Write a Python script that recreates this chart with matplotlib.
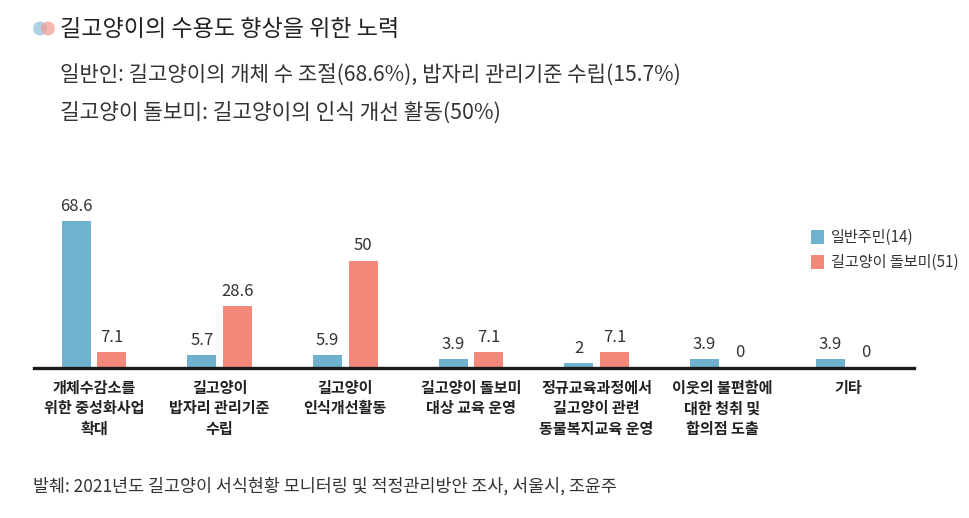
import matplotlib
matplotlib.use("Agg")
from matplotlib import pyplot as plt
from matplotlib.patches import Circle

plt.rcParams['font.family'] = ['Noto Sans CJK KR', 'DejaVu Sans']

# data
categories = [
    "개체수감소를\n위한 중성화사업\n확대",
    "길고양이\n밥자리 관리기준\n수립",
    "길고양이\n인식개선활동",
    "길고양이 돌보미\n대상 교육 운영",
    "정규교육과정에서\n길고양이 관련\n동물복지교육 운영",
    "이웃의 불편함에\n대한 청취 및\n합의점 도출",
    "기타",
]
residents = [68.6, 5.7, 5.9, 3.9, 2, 3.9, 3.9]
caregivers = [7.1, 28.6, 50, 7.1, 7.1, 0, 0]
series_names = ["일반주민(14)", "길고양이 돌보미(51)"]
title = "길고양이의 수용도 향상을 위한 노력"
subtitle1 = "일반인: 길고양이의 개체 수 조절(68.6%), 밥자리 관리기준 수립(15.7%)"
subtitle2 = "길고양이 돌보미: 길고양이의 인식 개선 활동(50%)"
source = "발췌: 2021년도 길고양이 서식현황 모니터링 및 적정관리방안 조사, 서울시, 조윤주"

W, H = 970, 518
BLUE = "#6fb2d0"
RED = "#f4897b"
TEXT = "#333333"

fig = plt.figure(figsize=(W / 100, H / 100), dpi=100)
ax = fig.add_axes([34 / W, 1 - 367.5 / H, 880 / W, 171 / H])

xs = list(range(len(categories)))
offset = 0.141
width = 0.231
b1 = ax.bar([x - offset for x in xs], residents, width, color=BLUE, label=series_names[0])
b2 = ax.bar([x + offset for x in xs], caregivers, width, color=RED, label=series_names[1])
for bars in (b1, b2):
    ax.bar_label(bars, padding=4.5, fontsize=12, color=TEXT)

ax.set_xlim(-0.478, 6.526)
ax.set_ylim(0, 80)
ax.set_yticks([])
ax.set_xticks(xs)
ax.set_xticklabels(categories, fontsize=10.9, fontweight='bold', color="#222222", linespacing=1.33, va='top')
ax.tick_params(axis='x', length=0, pad=9)
for side in ('top', 'left', 'right'):
    ax.spines[side].set_visible(False)
ax.spines['bottom'].set_linewidth(2.4)
ax.spines['bottom'].set_color("#1a1a1a")
ax.patch.set_alpha(0)

ax.legend(loc='upper left', bbox_to_anchor=(777 / 880, 0.81), frameon=False, fontsize=10.9,
          handlelength=0.85, handleheight=1.05, handletextpad=0.5, labelspacing=0.55,
          borderpad=0, borderaxespad=0, labelcolor=TEXT)

# title marker, two overlapping discs
bg = fig.add_axes([0, 0, 1, 1], zorder=-1)
bg.set_xlim(0, W)
bg.set_ylim(H, 0)
bg.axis('off')
bg.add_patch(Circle((40, 28.5), 7, color="#8cc0d8", alpha=0.7, lw=0))
bg.add_patch(Circle((48, 28.5), 7, color="#f09a8e", alpha=0.7, lw=0))

fig.text(60 / W, 1 - 29 / H, title, fontsize=16.6, color="#222222", va='center', fontweight='medium')
fig.text(60 / W, 1 - 76 / H, subtitle1, fontsize=15.2, color=TEXT, va='center')
fig.text(60 / W, 1 - 113 / H, subtitle2, fontsize=15.4, color=TEXT, va='center')
fig.text(33 / W, 1 - 486 / H, source, fontsize=12.5, color=TEXT, va='center')

fig.savefig("out.png", dpi=100)
